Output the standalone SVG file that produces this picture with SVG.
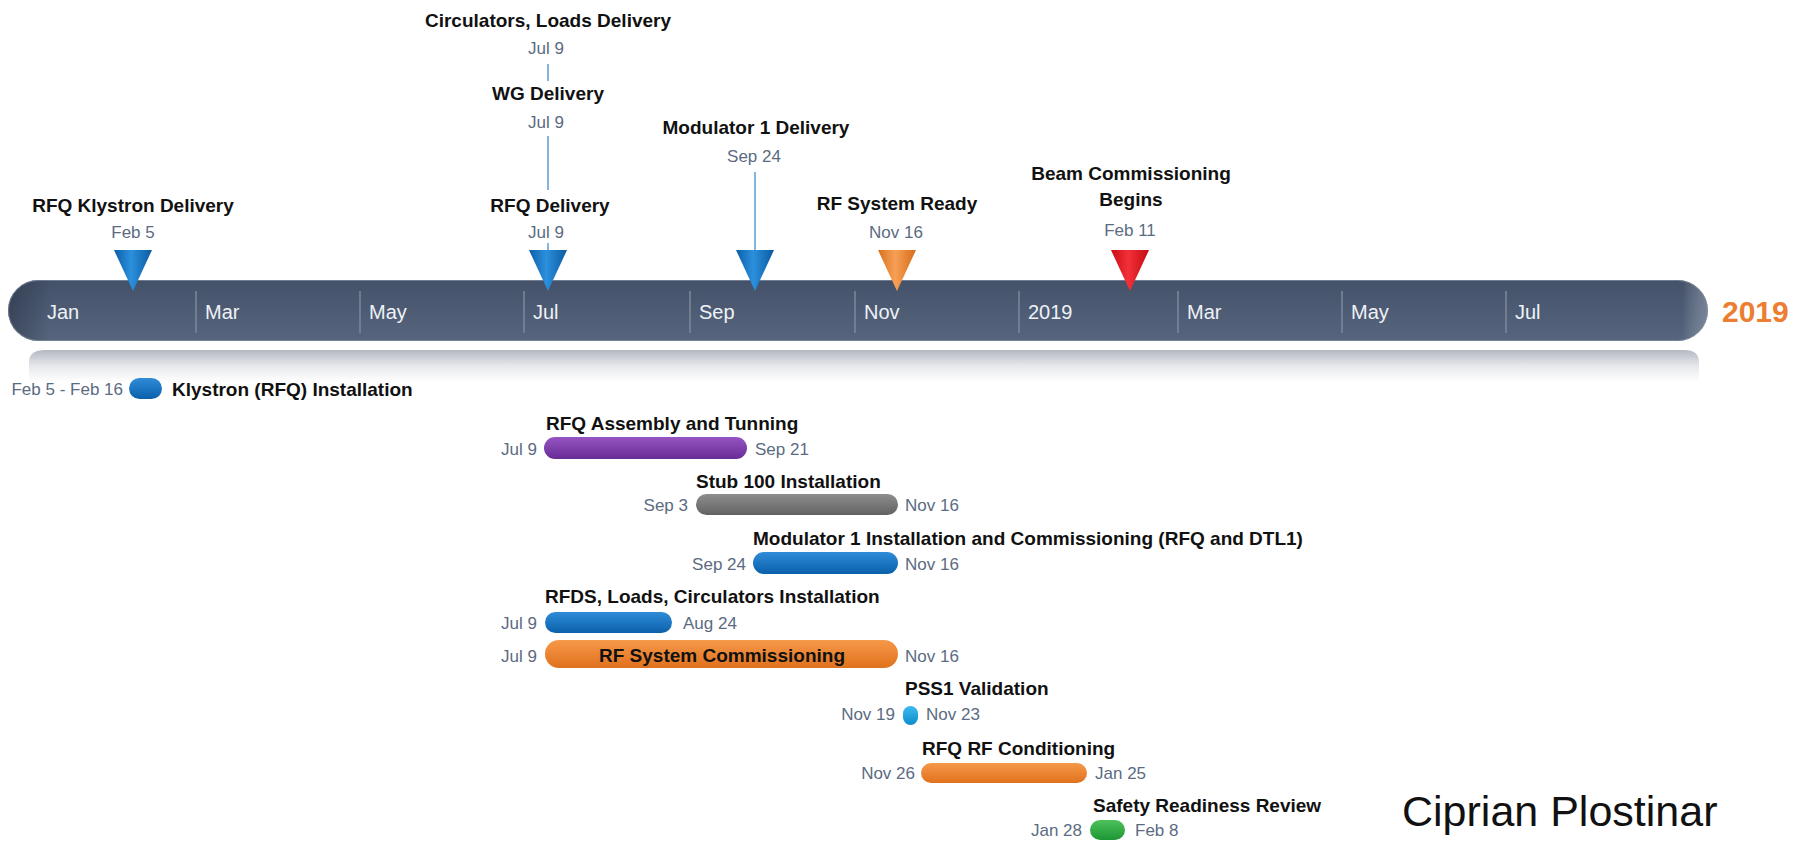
<svg xmlns="http://www.w3.org/2000/svg" width="1794" height="841" viewBox="0 0 1794 841">
<defs>
<linearGradient id="barG" x1="0" y1="0" x2="0" y2="1"><stop offset="0" stop-color="#435169"/><stop offset="1" stop-color="#57667e"/></linearGradient>
<linearGradient id="barEdge" x1="0" y1="0" x2="1" y2="0"><stop offset="0" stop-color="#1e2838" stop-opacity="0.45"/><stop offset="0.025" stop-color="#1e2838" stop-opacity="0"/><stop offset="0.985" stop-color="#ffffff" stop-opacity="0"/><stop offset="1" stop-color="#c0c8d4" stop-opacity="0.35"/></linearGradient>
<linearGradient id="reflG" x1="0" y1="0" x2="0" y2="1"><stop offset="0" stop-color="#b3b8c1"/><stop offset="0.5" stop-color="#e6e8eb"/><stop offset="1" stop-color="#ffffff"/></linearGradient>
<linearGradient id="triBlue" x1="0" y1="0" x2="1" y2="0"><stop offset="0" stop-color="#0b5ea8"/><stop offset="0.45" stop-color="#2c90dc"/><stop offset="1" stop-color="#0a5aa2"/></linearGradient>
<linearGradient id="triOrange" x1="0" y1="0" x2="1" y2="0"><stop offset="0" stop-color="#d8701e"/><stop offset="0.45" stop-color="#f7a055"/><stop offset="1" stop-color="#d66c1a"/></linearGradient>
<linearGradient id="triRed" x1="0" y1="0" x2="1" y2="0"><stop offset="0" stop-color="#c80c14"/><stop offset="0.45" stop-color="#f3303a"/><stop offset="1" stop-color="#c40a12"/></linearGradient>
<linearGradient id="pBlue" x1="0" y1="0" x2="0" y2="1"><stop offset="0" stop-color="#2f8cd8"/><stop offset="1" stop-color="#0b60aa"/></linearGradient>
<linearGradient id="pPurple" x1="0" y1="0" x2="0" y2="1"><stop offset="0" stop-color="#9655c2"/><stop offset="1" stop-color="#682b94"/></linearGradient>
<linearGradient id="pGray" x1="0" y1="0" x2="0" y2="1"><stop offset="0" stop-color="#8e8e8e"/><stop offset="1" stop-color="#626262"/></linearGradient>
<linearGradient id="pOrange" x1="0" y1="0" x2="0" y2="1"><stop offset="0" stop-color="#f6994a"/><stop offset="1" stop-color="#e0711d"/></linearGradient>
<linearGradient id="pCyan" x1="0" y1="0" x2="0" y2="1"><stop offset="0" stop-color="#3cbaf0"/><stop offset="1" stop-color="#0c8ccc"/></linearGradient>
<linearGradient id="pGreen" x1="0" y1="0" x2="0" y2="1"><stop offset="0" stop-color="#4dc25b"/><stop offset="1" stop-color="#1d9634"/></linearGradient>
<style>
text{font-family:"Liberation Sans",Arial,sans-serif}
.t{font-size:19px;font-weight:bold;fill:#111111}
.d{font-size:17px;fill:#5b6b82}
.c{text-anchor:middle}
.e{text-anchor:end}
.mo{font-size:20px;fill:#eef2f7}
.div{stroke:#7d899b;stroke-width:1.5}
.con{stroke:#5b9bd5;stroke-width:1.5;fill:none}
</style>
</defs>
<rect width="1794" height="841" fill="#ffffff"/>

<g id="timeline">
<path d="M45,350 H1684 Q1699,350 1699,362 V382 H29 V362 Q29,350 45,350 Z" fill="url(#reflG)"/>
<rect x="8" y="280" width="1700" height="61" rx="30.5" fill="url(#barG)"/>
<rect x="8" y="280" width="1700" height="61" rx="30.5" fill="url(#barEdge)"/>
<rect x="8.5" y="280.5" width="1699" height="60" rx="30" fill="none" stroke="#8e98a8" stroke-width="1" stroke-opacity="0.6"/>
<g class="div">
<line x1="196" y1="291" x2="196" y2="333"/>
<line x1="360" y1="291" x2="360" y2="333"/>
<line x1="524" y1="291" x2="524" y2="333"/>
<line x1="690" y1="291" x2="690" y2="333"/>
<line x1="855" y1="291" x2="855" y2="333"/>
<line x1="1019" y1="291" x2="1019" y2="333"/>
<line x1="1178" y1="291" x2="1178" y2="333"/>
<line x1="1342" y1="291" x2="1342" y2="333"/>
<line x1="1506" y1="291" x2="1506" y2="333"/>
</g>
<g class="mo">
<text x="47" y="319">Jan</text>
<text x="205" y="319">Mar</text>
<text x="369" y="319">May</text>
<text x="533" y="319">Jul</text>
<text x="699" y="319">Sep</text>
<text x="864" y="319">Nov</text>
<text x="1028" y="319">2019</text>
<text x="1187" y="319">Mar</text>
<text x="1351" y="319">May</text>
<text x="1515" y="319">Jul</text>
</g>
<text x="1722" y="322" style="font-size:30px;font-weight:bold;fill:#ed7d31">2019</text>
</g>

<g id="connectors">
<line class="con" x1="548" y1="64" x2="548" y2="81"/>
<line class="con" x1="548" y1="136" x2="548" y2="190"/>
<line class="con" x1="548" y1="243" x2="548" y2="251"/>
<line class="con" x1="755" y1="172" x2="755" y2="251"/>
</g>

<g id="m-klystron">
<text class="t c" x="133" y="212">RFQ Klystron Delivery</text>
<text class="d c" x="133" y="238">Feb 5</text>
<path d="M114,250 L152,250 L133,291 Z" fill="url(#triBlue)"/>
</g>
<g id="m-circulators">
<text class="t c" x="548" y="27">Circulators, Loads Delivery</text>
<text class="d c" x="546" y="54">Jul 9</text>
</g>
<g id="m-wg">
<text class="t c" x="548" y="100">WG Delivery</text>
<text class="d c" x="546" y="128">Jul 9</text>
</g>
<g id="m-rfq">
<text class="t c" x="550" y="212">RFQ Delivery</text>
<text class="d c" x="546" y="238">Jul 9</text>
<path d="M529,250 L567,250 L548,291 Z" fill="url(#triBlue)"/>
</g>
<g id="m-mod1">
<text class="t c" x="756" y="134">Modulator 1 Delivery</text>
<text class="d c" x="754" y="162">Sep 24</text>
<path d="M736,250 L774,250 L755,291 Z" fill="url(#triBlue)"/>
</g>
<g id="m-rfready">
<text class="t c" x="897" y="210">RF System Ready</text>
<text class="d c" x="896" y="238">Nov 16</text>
<path d="M878,250 L916,250 L897,291 Z" fill="url(#triOrange)"/>
</g>
<g id="m-beam">
<text class="t c" x="1131" y="180">Beam Commissioning</text>
<text class="t c" x="1131" y="206">Begins</text>
<text class="d c" x="1130" y="236">Feb 11</text>
<path d="M1111,250 L1149,250 L1130,291 Z" fill="url(#triRed)"/>
</g>

<g id="t-klystron">
<text class="d e" x="123" y="395">Feb 5 - Feb 16</text>
<rect x="129" y="378" width="33" height="21" rx="10.5" fill="url(#pBlue)"/>
<text class="t" x="172" y="396">Klystron (RFQ) Installation</text>
</g>
<g id="t-rfq-assembly">
<text class="t" x="546" y="430">RFQ Assembly and Tunning</text>
<text class="d e" x="537" y="455">Jul 9</text>
<rect x="544" y="437" width="203" height="22" rx="11" fill="url(#pPurple)"/>
<text class="d" x="755" y="455">Sep 21</text>
</g>
<g id="t-stub">
<text class="t" x="696" y="488">Stub 100 Installation</text>
<text class="d e" x="688" y="511">Sep 3</text>
<rect x="696" y="494" width="202" height="21" rx="10.5" fill="url(#pGray)"/>
<text class="d" x="905" y="511">Nov 16</text>
</g>
<g id="t-mod1">
<text class="t" x="753" y="545">Modulator 1 Installation and Commissioning (RFQ and DTL1)</text>
<text class="d e" x="746" y="570">Sep 24</text>
<rect x="753" y="552" width="145" height="22" rx="11" fill="url(#pBlue)"/>
<text class="d" x="905" y="570">Nov 16</text>
</g>
<g id="t-rfds">
<text class="t" x="545" y="603">RFDS, Loads, Circulators Installation</text>
<text class="d e" x="537" y="629">Jul 9</text>
<rect x="545" y="612" width="127" height="21" rx="10.5" fill="url(#pBlue)"/>
<text class="d" x="683" y="629">Aug 24</text>
</g>
<g id="t-rfcomm">
<text class="d e" x="537" y="662">Jul 9</text>
<rect x="545" y="640" width="353" height="28" rx="14" fill="url(#pOrange)"/>
<text class="t c" x="722" y="662">RF System Commissioning</text>
<text class="d" x="905" y="662">Nov 16</text>
</g>
<g id="t-pss1">
<text class="t" x="905" y="695">PSS1 Validation</text>
<text class="d e" x="895" y="720">Nov 19</text>
<rect x="903" y="706" width="15" height="19" rx="7.5" fill="url(#pCyan)"/>
<text class="d" x="926" y="720">Nov 23</text>
</g>
<g id="t-rfq-cond">
<text class="t" x="922" y="755">RFQ RF Conditioning</text>
<text class="d e" x="915" y="779">Nov 26</text>
<rect x="921" y="763" width="166" height="20" rx="10" fill="url(#pOrange)"/>
<text class="d" x="1095" y="779">Jan 25</text>
</g>
<g id="t-safety">
<text class="t" x="1093" y="812">Safety Readiness Review</text>
<text class="d e" x="1082" y="836">Jan 28</text>
<rect x="1090" y="820" width="35" height="20" rx="10" fill="url(#pGreen)"/>
<text class="d" x="1135" y="836">Feb 8</text>
</g>

<text x="1402" y="826" style="font-size:43px;fill:#111111">Ciprian Plostinar</text>
</svg>
